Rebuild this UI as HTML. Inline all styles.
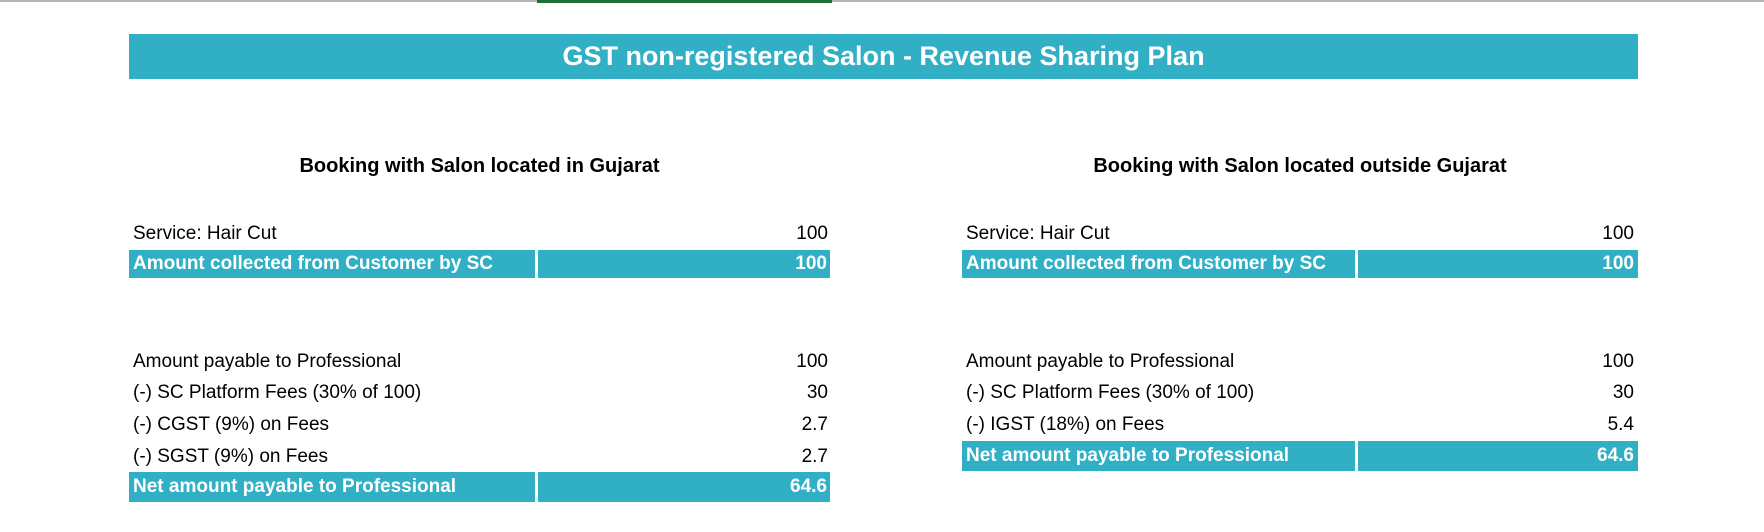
<!DOCTYPE html>
<html><head><meta charset="utf-8"><style>
*{box-sizing:border-box}
body{margin:0;width:1764px;height:532px;background:#fff;position:relative;overflow:hidden;font-family:"Liberation Sans",sans-serif;color:#000}
.a{position:absolute}
.bar{background:#31b0c5;color:#fff;font-weight:bold}
.t{font-size:19px;white-space:nowrap;line-height:30px}
</style></head><body>
<div class="a" style="left:0;top:0;width:1764px;height:2px;background:#b5b5b5"></div>
<div class="a" style="left:537px;top:0;width:295px;height:3px;background:#1e6e3c"></div>
<div class="a bar" style="left:129px;top:34px;width:1509px;height:45px;line-height:45px;text-align:center;font-size:27px">GST non-registered Salon - Revenue Sharing Plan</div>
<div class="a" style="left:129px;top:155px;width:701px;text-align:center;font-weight:bold;font-size:20px">Booking with Salon located in Gujarat</div>
<div class="a" style="left:962px;top:155px;width:676px;text-align:center;font-weight:bold;font-size:20px">Booking with Salon located outside Gujarat</div>

<!-- left -->
<div class="a t" style="left:133px;top:219px">Service: Hair Cut</div><div class="a t" style="left:600px;width:228px;text-align:right;top:219px">100</div>
<div class="a bar t" style="left:129px;top:250px;width:406px;height:28px;line-height:28px;padding-left:4px">Amount collected from Customer by SC</div>
<div class="a bar t" style="left:538px;top:250px;width:292px;height:28px;line-height:28px;text-align:right;padding-right:3px">100</div>
<div class="a t" style="left:133px;top:347px">Amount payable to Professional</div><div class="a t" style="left:600px;width:228px;text-align:right;top:347px">100</div>
<div class="a t" style="left:133px;top:378px">(-) SC Platform Fees (30% of 100)</div><div class="a t" style="left:600px;width:228px;text-align:right;top:378px">30</div>
<div class="a t" style="left:133px;top:410px">(-) CGST (9%) on Fees</div><div class="a t" style="left:600px;width:228px;text-align:right;top:410px">2.7</div>
<div class="a t" style="left:133px;top:442px">(-) SGST (9%) on Fees</div><div class="a t" style="left:600px;width:228px;text-align:right;top:442px">2.7</div>
<div class="a bar t" style="left:129px;top:472px;width:406px;height:30px;padding-left:4px">Net amount payable to Professional</div>
<div class="a bar t" style="left:538px;top:472px;width:292px;height:30px;text-align:right;padding-right:3px">64.6</div>

<!-- right -->
<div class="a t" style="left:966px;top:219px">Service: Hair Cut</div><div class="a t" style="left:1400px;width:234px;text-align:right;top:219px">100</div>
<div class="a bar t" style="left:962px;top:250px;width:393px;height:28px;line-height:28px;padding-left:4px">Amount collected from Customer by SC</div>
<div class="a bar t" style="left:1358px;top:250px;width:280px;height:28px;line-height:28px;text-align:right;padding-right:4px">100</div>
<div class="a t" style="left:966px;top:347px">Amount payable to Professional</div><div class="a t" style="left:1400px;width:234px;text-align:right;top:347px">100</div>
<div class="a t" style="left:966px;top:378px">(-) SC Platform Fees (30% of 100)</div><div class="a t" style="left:1400px;width:234px;text-align:right;top:378px">30</div>
<div class="a t" style="left:966px;top:410px">(-) IGST (18%) on Fees</div><div class="a t" style="left:1400px;width:234px;text-align:right;top:410px">5.4</div>
<div class="a bar t" style="left:962px;top:441px;width:393px;height:30px;padding-left:4px">Net amount payable to Professional</div>
<div class="a bar t" style="left:1358px;top:441px;width:280px;height:30px;text-align:right;padding-right:4px">64.6</div>
</body></html>
